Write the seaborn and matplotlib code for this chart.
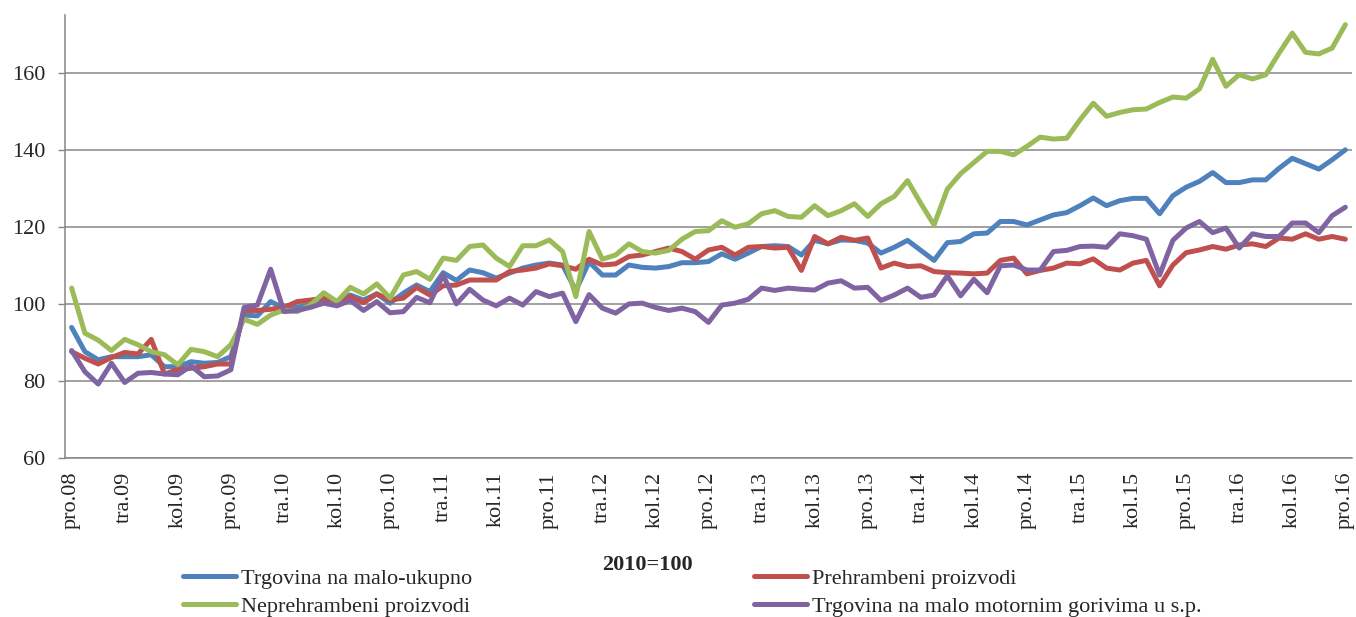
import numpy as np
import pandas as pd
import matplotlib
matplotlib.use("Agg")
import matplotlib.pyplot as plt
import seaborn as sns

series_names = [
    "Trgovina na malo-ukupno",
    "Prehrambeni proizvodi",
    "Neprehrambeni proizvodi",
    "Trgovina na malo motornim gorivima u s.p.",
]
colors = ["#4F81BD", "#C0504D", "#9BBB59", "#8064A2"]

tick_labels = [
    "pro.08", "tra.09", "kol.09", "pro.09", "tra.10", "kol.10", "pro.10",
    "tra.11", "kol.11", "pro.11", "tra.12", "kol.12", "pro.12", "tra.13",
    "kol.13", "pro.13", "tra.14", "kol.14", "pro.14", "tra.15", "kol.15",
    "pro.15", "tra.16", "kol.16", "pro.16",
]

ukupno = [
    93.9, 87.6, 85.5, 86.3, 86.3, 86.3, 86.8, 83.7, 83.7, 85.0, 84.6, 84.8, 86.3, 97.1, 96.9, 100.6, 98.9, 99.1, 99.7, 100.6,
    100.3, 102.3, 101.0, 102.6, 100.2, 102.8, 104.9, 103.2, 108.1, 106.1, 108.8, 108.1, 106.7, 108.0, 109.3, 110.1, 110.6, 110.1, 103.5, 110.9,
    107.5, 107.5, 110.1, 109.5, 109.3, 109.7, 110.7, 110.7, 111.0, 113.0, 111.6, 113.2, 114.9, 115.1, 114.9, 112.7, 116.5, 115.6, 116.6,
    116.5, 115.8, 113.2, 114.7, 116.5, 113.9, 111.3, 115.9, 116.2, 118.2, 118.4, 121.4, 121.4, 120.5, 121.8, 123.1, 123.7, 125.5, 127.5,
    125.5, 126.8, 127.4, 127.4, 123.4, 128.1, 130.3, 131.8, 134.1, 131.5, 131.5, 132.2, 132.2, 135.2, 137.8, 136.4, 135.0, 137.4, 140.0,
]
prehrambeni = [
    87.6, 85.9, 84.4, 86.1, 87.4, 87.0, 90.8, 81.8, 82.9, 83.3, 83.7, 84.4, 84.4, 98.3, 98.3, 98.6, 99.1, 100.6, 101.0, 101.5,
    100.0, 101.9, 100.3, 102.6, 101.0, 101.5, 104.3, 102.3, 104.7, 104.9, 106.2, 106.2, 106.2, 108.4, 108.8, 109.3, 110.4, 109.9, 109.0, 111.6,
    110.1, 110.4, 112.3, 112.7, 113.6, 114.5, 113.6, 111.6, 114.0, 114.7, 112.7, 114.7, 114.9, 114.5, 114.7, 108.7, 117.5, 115.6, 117.3,
    116.5, 117.1, 109.3, 110.6, 109.7, 109.9, 108.4, 108.1, 108.0, 107.8, 108.0, 111.3, 111.9, 107.8, 108.7, 109.3, 110.6, 110.4, 111.7,
    109.3, 108.8, 110.6, 111.3, 104.7, 110.1, 113.3, 114.0, 114.9, 114.2, 115.3, 115.6, 114.9, 117.1, 116.8, 118.2, 116.8, 117.5, 116.8,
]
neprehrambeni = [
    104.1, 92.4, 90.6, 87.9, 90.8, 89.4, 87.6, 86.8, 84.2, 88.2, 87.6, 86.3, 89.4, 96.0, 94.7, 97.1, 98.4, 98.0, 99.7, 102.9,
    100.6, 104.3, 102.6, 105.2, 101.5, 107.5, 108.4, 106.4, 111.9, 111.3, 114.9, 115.3, 111.9, 109.7, 115.1, 115.1, 116.6, 113.6, 101.9, 118.8,
    111.6, 112.7, 115.6, 113.6, 113.2, 113.9, 116.8, 118.8, 119.0, 121.6, 119.9, 120.8, 123.4, 124.2, 122.7, 122.5, 125.5, 122.9, 124.2,
    126.0, 122.7, 126.0, 127.9, 132.0, 126.1, 120.5, 129.8, 133.8, 136.7, 139.6, 139.6, 138.7, 140.9, 143.3, 142.8, 143.0, 147.8, 152.1,
    148.7, 149.7, 150.4, 150.6, 152.3, 153.7, 153.4, 155.8, 163.5, 156.5, 159.5, 158.4, 159.5, 165.1, 170.3, 165.3, 164.9, 166.4, 172.5,
]
gorivima = [
    87.9, 82.4, 79.2, 84.6, 79.6, 82.0, 82.2, 81.8, 81.6, 83.9, 81.1, 81.3, 82.9, 99.1, 99.7, 109.0, 98.0, 98.3, 99.1, 100.2,
    99.5, 100.9, 98.3, 100.6, 97.7, 98.0, 101.7, 100.3, 107.5, 100.0, 103.8, 101.0, 99.5, 101.5, 99.7, 103.2, 101.9, 102.8, 95.4, 102.4,
    98.9, 97.6, 100.0, 100.2, 99.1, 98.3, 98.9, 98.0, 95.2, 99.7, 100.2, 101.2, 104.1, 103.5, 104.1, 103.8, 103.6, 105.4, 106.0,
    104.1, 104.3, 100.9, 102.3, 104.1, 101.7, 102.3, 107.3, 102.1, 106.4, 102.9, 109.9, 110.1, 108.8, 108.8, 113.6, 113.9, 114.9, 115.0,
    114.7, 118.2, 117.7, 116.8, 107.5, 116.5, 119.7, 121.4, 118.5, 119.7, 114.5, 118.2, 117.5, 117.5, 121.0, 121.0, 118.5, 122.9, 125.1,
]

values = [ukupno, prehrambeni, neprehrambeni, gorivima]
frames = []
for name, vals in zip(series_names, values):
    frames.append(pd.DataFrame({"t": np.arange(len(vals)), "v": vals, "s": name}))
df = pd.concat(frames, ignore_index=True)

sns.set_style("white")
plt.rcParams["font.family"] = ["Liberation Serif", "DejaVu Serif"]

fig = plt.figure(figsize=(13.56, 6.17), dpi=100)
ax = fig.add_axes([65 / 1356, 1 - 458 / 617, (1352 - 65) / 1356, (458 - 15) / 617])

sns.lineplot(data=df, x="t", y="v", hue="s", hue_order=series_names,
             palette=colors, linewidth=3.6, ax=ax, legend=False, sort=False)

ax.set_xlim(-0.5, len(ukupno) - 0.5)
ax.set_ylim(60, 175)
ax.set_yticks([60, 80, 100, 120, 140, 160])
ax.set_xticks(np.arange(0, len(ukupno), 4))
ax.set_xticklabels(tick_labels, rotation=90, fontsize=16)
ax.tick_params(axis="y", labelsize=16, length=5, width=1.0, color="#868686",
               pad=9, direction="out", left=True)
ax.tick_params(axis="x", length=0, pad=10)
ax.set_xlabel("")
ax.set_ylabel("")
ax.yaxis.grid(True, color="#868686", linewidth=1.1)
ax.xaxis.grid(False)
ax.set_axisbelow(True)
for side in ["top", "right"]:
    ax.spines[side].set_visible(False)
for side in ["left", "bottom"]:
    ax.spines[side].set_color("#868686")
    ax.spines[side].set_linewidth(1.1)

fig.text(647 / 1356, 1 - 565 / 617, "2010=100", fontsize=16, fontweight="bold",
         ha="center", va="center")

handles = ax.get_lines()[:4]
order = [0, 2, 1, 3]
leg = fig.legend([handles[i] for i in order], [series_names[i] for i in order],
                 ncol=2, loc="upper left", bbox_to_anchor=(183 / 1356, 1 - 568 / 617),
                 frameon=False, fontsize=16, handlelength=2.4, handletextpad=0.2,
                 columnspacing=12.7, labelspacing=0.36, borderpad=0, borderaxespad=0)

fig.savefig("out.png", dpi=100)
